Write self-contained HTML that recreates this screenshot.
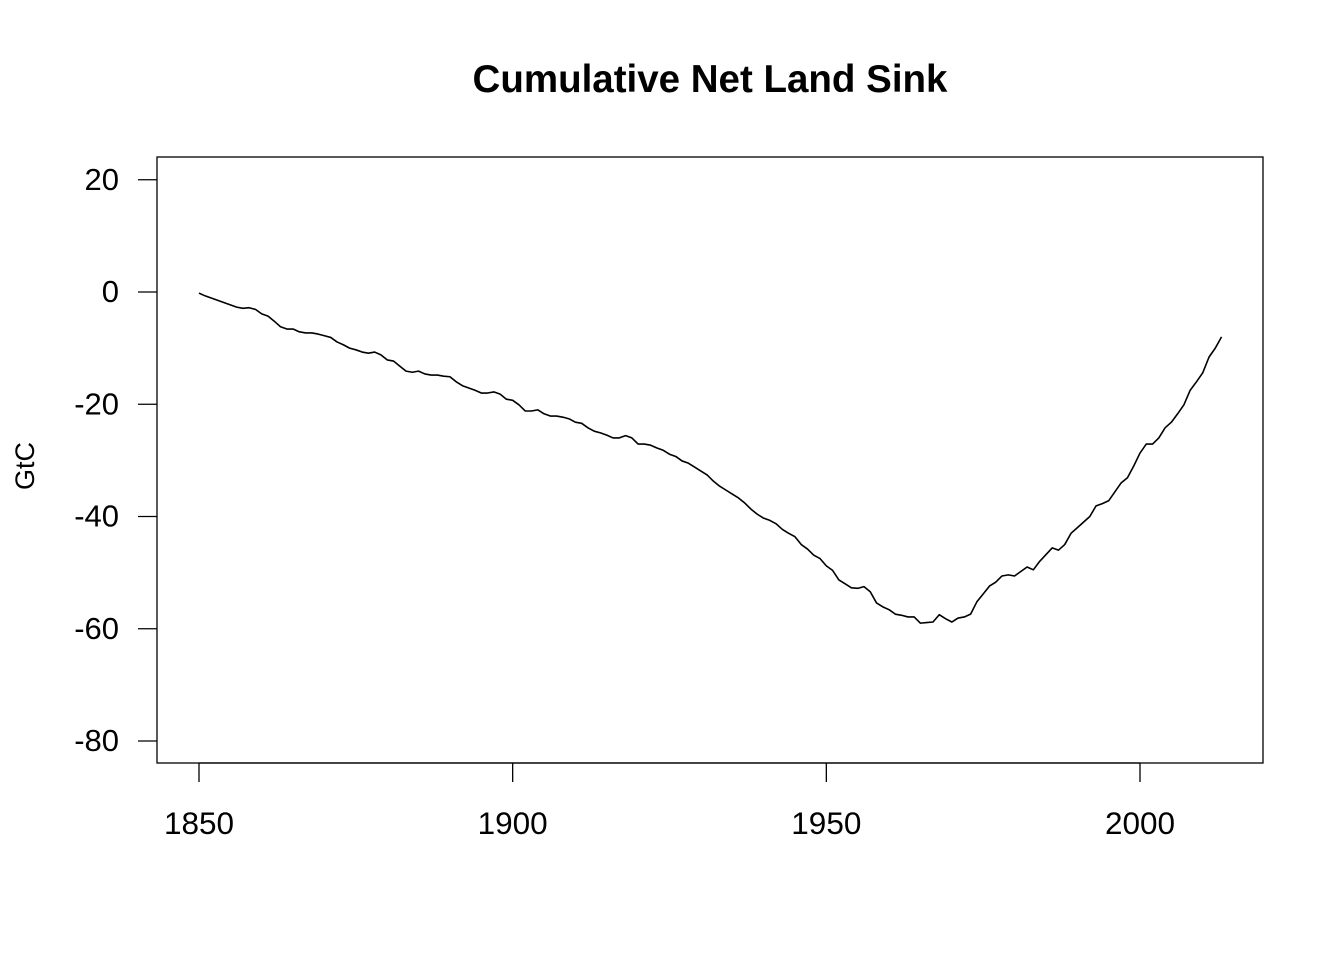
<!DOCTYPE html>
<html><head><meta charset="utf-8"><style>
body{margin:0;background:#fff}
svg{display:block;font-family:"Liberation Sans",sans-serif}
</style></head><body>
<svg id="chart" width="1344" height="960" viewBox="0 0 1344 960">
<rect width="1344" height="960" fill="#fff"/>
<text x="710" y="92" text-anchor="middle" font-size="38.5" font-weight="bold">Cumulative Net Land Sink</text>
<rect x="157" y="157" width="1106" height="606" fill="none" stroke="#000" stroke-width="1.3"/>
<text transform="translate(34,466) rotate(-90)" text-anchor="middle" font-size="27">GtC</text>
<g id="axes"></g>
<path id="series" fill="none" stroke="#000" stroke-width="1.6" stroke-linejoin="round"/>
</svg>
<script>
const startYear = 1850;
const values = [
-0.2,-0.7,-1.1,-1.5,-1.9,-2.3,-2.7,-2.9,-2.8,-3.1,
-3.9,-4.3,-5.2,-6.2,-6.6,-6.6,-7.1,-7.3,-7.3,-7.5,
-7.8,-8.1,-8.9,-9.4,-10,-10.3,-10.7,-10.9,-10.7,-11.2,
-12.1,-12.3,-13.2,-14.1,-14.3,-14.1,-14.6,-14.8,-14.8,-15,
-15.1,-16,-16.7,-17.1,-17.5,-18,-18,-17.8,-18.2,-19.1,
-19.3,-20.1,-21.2,-21.2,-21,-21.7,-22.1,-22.1,-22.3,-22.6,
-23.2,-23.4,-24.2,-24.8,-25.1,-25.5,-26,-26,-25.6,-26,
-27.1,-27.1,-27.3,-27.8,-28.2,-28.9,-29.3,-30.1,-30.5,-31.2,
-31.9,-32.6,-33.7,-34.6,-35.3,-36,-36.7,-37.6,-38.7,-39.6,
-40.3,-40.7,-41.3,-42.3,-43,-43.6,-45,-45.8,-46.9,-47.5,
-48.8,-49.6,-51.3,-52,-52.7,-52.8,-52.5,-53.4,-55.4,-56.1,
-56.6,-57.4,-57.6,-57.9,-57.9,-59,-58.9,-58.8,-57.5,-58.2,
-58.8,-58.1,-57.9,-57.4,-55.2,-53.8,-52.4,-51.7,-50.6,-50.4,
-50.6,-49.8,-49,-49.5,-48,-46.8,-45.6,-46,-45,-43,
-42,-41,-40,-38.1,-37.7,-37.2,-35.6,-34,-33.1,-31,
-28.7,-27.1,-27.1,-26,-24.2,-23.2,-21.7,-20.1,-17.5,-16,
-14.4,-11.6,-10,-8];
const xTicks = [1850,1900,1950,2000];
const yTicks = [20,0,-20,-40,-60,-80];

const xs = y => 199 + (y - 1850) * (941/150);
const ys = v => 292 - v * 5.6125;
const NS = "http://www.w3.org/2000/svg";
const axes = document.getElementById('axes');
function mk(tag, attrs){const e=document.createElementNS(NS,tag);for(const k in attrs)e.setAttribute(k,attrs[k]);axes.appendChild(e);return e;}
const xl = mk('line',{x1:xs(xTicks[0]),x2:xs(xTicks[xTicks.length-1]),y1:763,y2:763,stroke:'#000','stroke-width':1.3});


xTicks.forEach(t=>{
  const l=mk('line',{x1:xs(t),x2:xs(t),y1:763,y2:782,stroke:'#000','stroke-width':1.3});
  
  
  const tx=mk('text',{x:xs(t),y:834,'text-anchor':'middle','font-size':31.5});
  tx.textContent=t;
  
  
});
yTicks.forEach(t=>{
  const l=mk('line',{x1:138,x2:157,y1:ys(t),y2:ys(t),stroke:'#000','stroke-width':1.3});
  
  
  const tx=mk('text',{x:119,y:ys(t)+10,'text-anchor':'end','font-size':31});
  tx.textContent=t;
  
  
});
document.getElementById('series').setAttribute('d',
  values.map((v,i)=>(i?'L':'M')+xs(startYear+i).toFixed(2)+','+ys(v).toFixed(2)).join(''));
</script>
</body></html>
